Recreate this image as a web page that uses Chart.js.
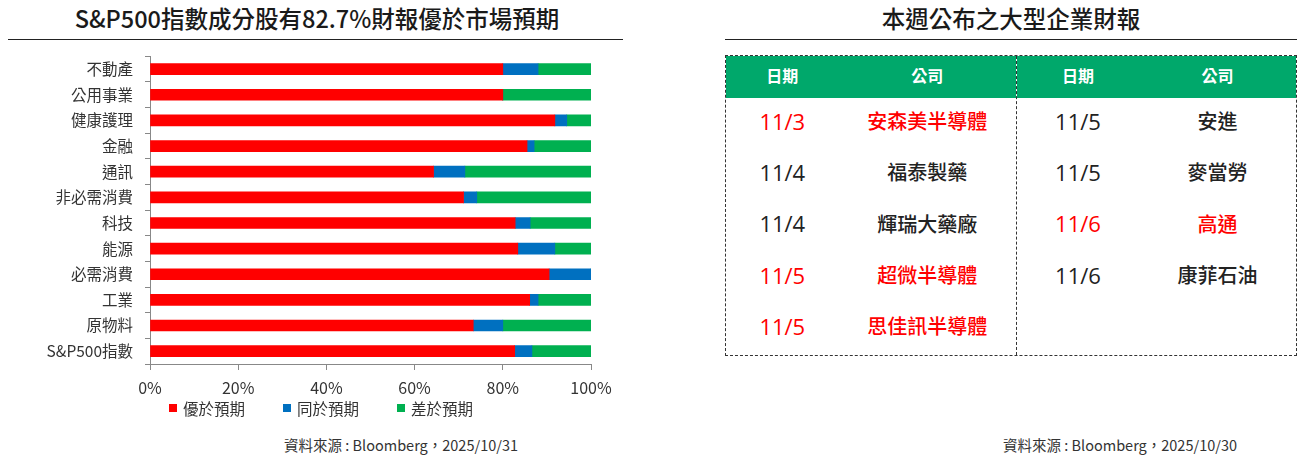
<!DOCTYPE html>
<html>
<head>
<meta charset="utf-8">
<script src="https://cdn.jsdelivr.net/npm/chart.js@4.4.0/dist/chart.umd.min.js"></script>
<style>
  html, body { margin:0; padding:0; background:#fff; }
  body { width:1301px; height:458px; position:relative; overflow:hidden;
         font-family:"Noto Sans CJK TC","Noto Sans",sans-serif; color:#222; }
  .title { position:absolute; top:3px; font-size:23.5px; line-height:30px; white-space:nowrap;
           transform:translateX(-50%); color:#1a1a1a; font-weight:500; }
  .rule { position:absolute; top:39px; height:1px; background:#222; }
  .src { position:absolute; top:435px; font-size:14.5px; line-height:20px; white-space:nowrap;
         transform:translateX(-50%); color:#333; }
  #wrap { position:absolute; left:0; top:35px; width:640px; height:369px; }
  #legend { position:absolute; left:0; width:642px; top:398px; height:20px; display:flex;
            justify-content:center; align-items:center; gap:38px; font-size:15.5px; color:#333; }
  .li { display:flex; align-items:center; white-space:nowrap; }
  .box { width:8px; height:8px; margin-right:6px; }
  #tbl { position:absolute; left:725px; top:55px; width:572px; height:301px; box-sizing:border-box;
         border:1px dashed #333; display:flex; }
  .half { height:100%; display:flex; flex-direction:column; box-sizing:border-box; }
  .half.l { width:291px; border-right:1px dashed #333; }
  .half.r { width:279px; }
  .row { display:flex; height:51.3px; align-items:center; }
  .row.head { height:42px; background:#00A86B; color:#fff; font-weight:bold; font-size:16px; }
  .cell { text-align:center; white-space:nowrap; position:relative; top:-2px; }
  .d { font-size:22px; font-family:"Open Sans","Noto Sans CJK TC",sans-serif; top:-3px; }
  .c { font-size:20px; font-weight:500; top:-3px; }
  .red { color:#FF0000; }
</style>
</head>
<body>
<div class="title" style="left:317px;">S&amp;P500指數成分股有82.7%財報優於市場預期</div>
<div class="rule" style="left:8px;width:615px;"></div>
<div class="title" style="left:1011px;">本週公布之大型企業財報</div>
<div class="rule" style="left:725px;width:572px;"></div>

<div id="wrap"><canvas id="c"></canvas></div>
<div id="legend"></div>
<div class="src" style="left:401px;">資料來源 : Bloomberg，2025/10/31</div>
<div class="src" style="left:1120px;">資料來源 : Bloomberg，2025/10/30</div>

<div id="tbl">
  <div class="half l" id="hl"></div>
  <div class="half r" id="hr"></div>
</div>

<script>
// ---- chart data ----
const categories = ["不動產","公用事業","健康護理","金融","通訊","非必需消費","科技","能源","必需消費","工業","原物料","S&P500指數"];
const beatValues   = [80.0, 80.0, 91.8, 85.5, 64.3, 71.1, 82.8, 83.4, 90.5, 86.1, 73.3, 82.7];
const inlineValues = [ 8.0,  0.0,  2.7,  1.6,  7.1,  3.0,  3.4,  8.4,  9.5,  1.9,  6.7,  3.9];
const missValues   = [12.0, 20.0,  5.5, 12.9, 28.6, 25.9, 13.8,  8.2,  0.0, 12.0, 20.0, 13.4];
const seriesNames  = ["優於預期","同於預期","差於預期"];
const xTicks = [0, 20, 40, 60, 80, 100];

// ---- table data ----
const leftDates     = ["11/3","11/4","11/4","11/5","11/5"];
const leftCompanies = ["安森美半導體","福泰製藥","輝瑞大藥廠","超微半導體","思佳訊半導體"];
const leftHighlight = [true,false,false,true,true];
const rightDates     = ["11/5","11/5","11/6","11/6",""];
const rightCompanies = ["安進","麥當勞","高通","康菲石油",""];
const rightHighlight = [false,false,true,false,false];
const headers = ["日期","公司"];

function buildHalf(el, dates, comps, hl, w1, w2) {
  let h = '<div class="row head"><div class="cell" style="width:'+w1+'px">'+headers[0]+'</div><div class="cell" style="width:'+w2+'px">'+headers[1]+'</div></div>';
  for (let i = 0; i < dates.length; i++) {
    const cls = hl[i] ? ' red' : '';
    h += '<div class="row"><div class="cell d'+cls+'" style="width:'+w1+'px">'+dates[i]+'</div><div class="cell c'+cls+'" style="width:'+w2+'px">'+comps[i]+'</div></div>';
  }
  el.innerHTML = h;
}
buildHalf(document.getElementById('hl'), leftDates, leftCompanies, leftHighlight, 113, 178);
buildHalf(document.getElementById('hr'), rightDates, rightCompanies, rightHighlight, 122, 157);

const FONT = "'Noto Sans CJK TC','Noto Sans',sans-serif";
const colors = ["#FF0000","#0070C0","#00B050"];
const chart = new Chart(document.getElementById('c'), {
  type: 'bar',
  data: {
    labels: categories,
    datasets: [
      { label: seriesNames[0], data: beatValues,   backgroundColor: colors[0], barThickness: 11 },
      { label: seriesNames[1], data: inlineValues, backgroundColor: colors[1], barThickness: 11 },
      { label: seriesNames[2], data: missValues,   backgroundColor: colors[2], barThickness: 11 }
    ]
  },
  options: {
    indexAxis: 'y',
    responsive: true,
    maintainAspectRatio: false,
    animation: false,
    layout: { padding: { left: 0, right: 49, top: 1, bottom: 0 } },
    plugins: {
      tooltip: { enabled: false },
      legend: { display: false }
    },
    scales: {
      x: {
        stacked: true, min: 0, max: 100,
        afterBuildTicks: (s) => { s.ticks = xTicks.map(v => ({ value: v })); },
        afterFit: (s) => { s.height = 40; },
        ticks: { callback: (v) => v + '%', color: '#333', padding: 8, font: { family: FONT, size: 16 } },
        grid: { drawOnChartArea: false, drawTicks: true, tickLength: 6, color: '#888' },
        border: { color: '#888', width: 1 }
      },
      y: {
        stacked: true,
        afterFit: (s) => { s.width = 150; },
        ticks: { color: '#333', padding: 12, font: { family: FONT, size: 15.5 } },
        grid: { drawOnChartArea: false, drawTicks: true, tickLength: 5, color: '#888', offset: true },
        border: { color: '#888', width: 1 }
      }
    }
  }
});

// legend built from the chart's datasets
const lg = document.getElementById('legend');
chart.data.datasets.forEach(ds => {
  const it = document.createElement('div');
  it.className = 'li';
  it.innerHTML = '<span class="box" style="background:' + ds.backgroundColor + '"></span><span>' + ds.label + '</span>';
  lg.appendChild(it);
});
</script>
</body>
</html>
